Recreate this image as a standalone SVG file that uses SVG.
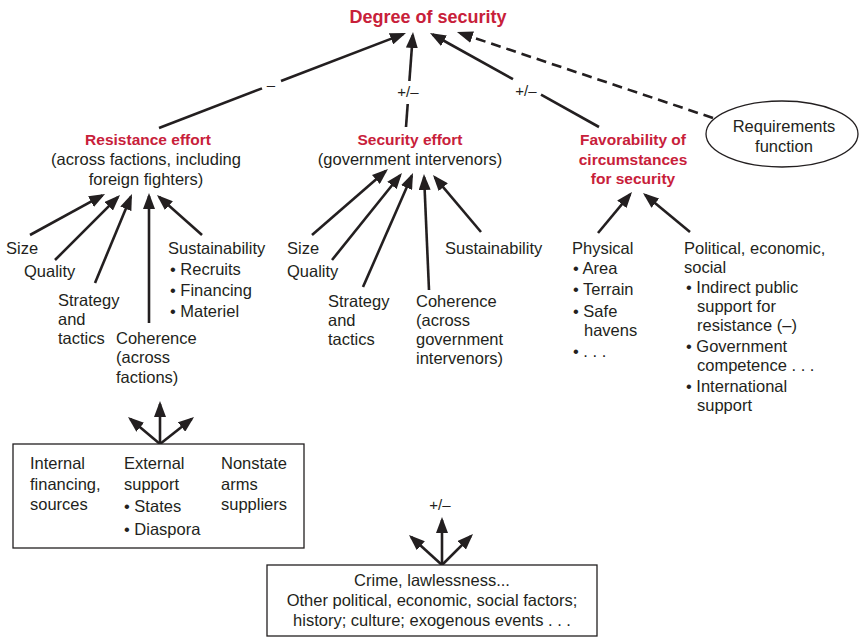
<svg xmlns="http://www.w3.org/2000/svg" width="859" height="638" viewBox="0 0 859 638">
<style>
text{font-family:"Liberation Sans",Arial,sans-serif;font-size:16.5px;fill:#231f20}
.h{font-weight:bold;fill:#c8203a;font-size:15.5px}
.t{font-size:18px}
.c{text-anchor:middle}
.ln{stroke:#231f20;stroke-width:2.6;fill:none}
.d{stroke-dasharray:10 6}
.bx{fill:#fff;stroke:#231f20;stroke-width:1.3}
.s{font-size:15px}
</style>
<defs>
<marker id="ah" viewBox="0 0 16 12" refX="13" refY="6" markerWidth="16" markerHeight="12" markerUnits="userSpaceOnUse" orient="auto">
<path d="M0,0 L16,6 L0,12 z" fill="#231f20"/>
</marker>
</defs>
<g id="connectors">
<line class="ln" x1="159" y1="128" x2="262" y2="88.4"/>
<line class="ln" x1="281" y1="81" x2="403.2" y2="34.1" marker-end="url(#ah)"/>
<line class="ln" x1="406" y1="127" x2="407.7" y2="104"/>
<line class="ln" x1="409.4" y1="81" x2="412.8" y2="35" marker-end="url(#ah)"/>
<line class="ln" x1="599" y1="127" x2="541" y2="94.7"/>
<line class="ln" x1="513" y1="79.2" x2="432.6" y2="34.5" marker-end="url(#ah)"/>
<line class="ln d" x1="713" y1="118" x2="459.8" y2="33" marker-end="url(#ah)"/>
<line class="ln" x1="30" y1="235" x2="102.4" y2="195.4" marker-end="url(#ah)"/>
<line class="ln" x1="55" y1="260" x2="117.9" y2="197.1" marker-end="url(#ah)"/>
<line class="ln" x1="95" y1="283" x2="130.8" y2="196.8" marker-end="url(#ah)"/>
<line class="ln" x1="149" y1="323" x2="149" y2="196" marker-end="url(#ah)"/>
<line class="ln" x1="202" y1="235" x2="159.2" y2="197" marker-end="url(#ah)"/>
<line class="ln" x1="312" y1="235" x2="385.7" y2="171" marker-end="url(#ah)"/>
<line class="ln" x1="332" y1="260" x2="400.1" y2="175.3" marker-end="url(#ah)"/>
<line class="ln" x1="363" y1="287" x2="411.8" y2="175.7" marker-end="url(#ah)"/>
<line class="ln" x1="429" y1="290" x2="424.1" y2="177" marker-end="url(#ah)"/>
<line class="ln" x1="481" y1="232" x2="434.9" y2="177.3" marker-end="url(#ah)"/>
<line class="ln" x1="598" y1="233" x2="630.1" y2="194.3" marker-end="url(#ah)"/>
<line class="ln" x1="690" y1="232" x2="645.3" y2="194.9" marker-end="url(#ah)"/>
<line class="ln" x1="160" y1="444" x2="160" y2="404" marker-end="url(#ah)"/>
<line class="ln" x1="160" y1="444" x2="130.3" y2="418.9" marker-end="url(#ah)"/>
<line class="ln" x1="160" y1="444" x2="191.7" y2="418.9" marker-end="url(#ah)"/>
<line class="ln" x1="442" y1="565" x2="442" y2="520" marker-end="url(#ah)"/>
<line class="ln" x1="442" y1="565" x2="411.2" y2="537" marker-end="url(#ah)"/>
<line class="ln" x1="442" y1="565" x2="470.9" y2="536.1" marker-end="url(#ah)"/>
<text class="c s" x="271" y="90">–</text>
<text class="c s" x="408" y="97">+/–</text>
<text class="c s" x="526" y="96">+/–</text>
<text class="c s" x="440" y="510">+/–</text>
</g>
<g id="degree">
<text class="h t c" x="428" y="23">Degree of security</text>
</g>
<g id="requirements">
<ellipse class="bx" cx="782" cy="134" rx="76" ry="33"/>
<text class="c" x="784" y="132">Requirements</text>
<text class="c" x="784" y="152">function</text>
</g>
<g id="resistance">
<text class="h c" x="148" y="145">Resistance effort</text>
<text class="c" x="146" y="165">(across factions, including</text>
<text class="c" x="146" y="185">foreign fighters)</text>
</g>
<g id="security">
<text class="h c" x="410" y="145">Security effort</text>
<text class="c" x="410" y="165">(government intervenors)</text>
</g>
<g id="favorability">
<text class="h c" x="633" y="145">Favorability of</text>
<text class="h c" x="633" y="164.5">circumstances</text>
<text class="h c" x="633" y="184">for security</text>
</g>
<g id="res-size"><text x="6" y="254">Size</text></g>
<g id="res-quality"><text x="24" y="277">Quality</text></g>
<g id="res-strategy"><text x="58" y="306">Strategy</text><text x="58" y="325">and</text><text x="58" y="344">tactics</text></g>
<g id="res-coherence"><text x="116" y="344">Coherence</text><text x="116" y="363">(across</text><text x="116" y="383">factions)</text></g>
<g id="res-sustainability"><text x="168" y="254">Sustainability</text><text x="170" y="275">• Recruits</text><text x="170" y="296">• Financing</text><text x="170" y="317">• Materiel</text></g>
<g id="sec-size"><text x="287" y="254">Size</text></g>
<g id="sec-quality"><text x="287" y="277">Quality</text></g>
<g id="sec-strategy"><text x="328" y="307">Strategy</text><text x="328" y="326">and</text><text x="328" y="345">tactics</text></g>
<g id="sec-coherence"><text x="416" y="307">Coherence</text><text x="416" y="326">(across</text><text x="416" y="345">government</text><text x="416" y="364">intervenors)</text></g>
<g id="sec-sustainability"><text x="445" y="254">Sustainability</text></g>
<g id="physical"><text x="572" y="254">Physical</text><text x="573" y="274">• Area</text><text x="573" y="295">• Terrain</text><text x="573" y="317">• Safe</text><text x="584" y="336">havens</text><text x="573" y="357">•  . . .</text></g>
<g id="political"><text x="684" y="254">Political, economic,</text><text x="684" y="273">social</text><text x="686" y="293">• Indirect public</text><text x="697" y="312">support for</text><text x="697" y="331">resistance (–)</text><text x="686" y="352">• Government</text><text x="697" y="371">competence . . .</text><text x="686" y="392">• International</text><text x="697" y="411">support</text></g>
<g id="resources">
<rect class="bx" x="13" y="444" width="291" height="104"/>
<text x="30" y="469">Internal</text><text x="30" y="490">financing,</text><text x="30" y="510">sources</text>
<text x="124" y="469">External</text><text x="124" y="490">support</text><text x="124" y="512">• States</text><text x="124" y="535">• Diaspora</text>
<text x="221" y="469">Nonstate</text><text x="221" y="490">arms</text><text x="221" y="510">suppliers</text>
</g>
<g id="other-factors">
<rect class="bx" x="267" y="565" width="330" height="71"/>
<text class="c" x="432" y="586">Crime, lawlessness...</text>
<text class="c" x="432" y="606">Other political, economic, social factors;</text>
<text class="c" x="432" y="626">history; culture; exogenous events . . .</text>
</g>
</svg>
